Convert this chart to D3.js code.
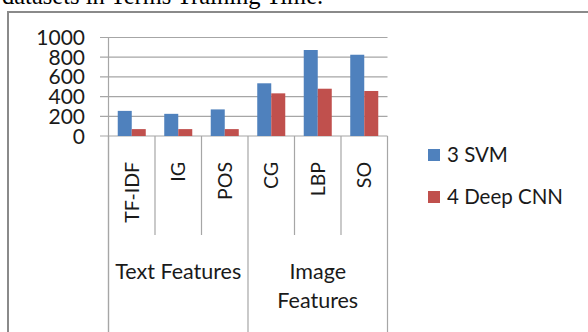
<!DOCTYPE html>
<html>
<head>
<meta charset="utf-8">
<script src="https://cdn.jsdelivr.net/npm/d3@7"></script>
<style>
  html, body { margin: 0; padding: 0; background: #fff; }
  svg { display: block; }
  text { font-family: Lato, "Open Sans", sans-serif; fill: #1a1a1a; }
</style>
</head>
<body>
<svg id="chart" width="588" height="332"></svg>
<script>
// Training time per feature set
const categories = ["TF-IDF", "IG", "POS", "CG", "LBP", "SO"];
const groups = [
  { label: ["Text Features"], members: ["TF-IDF", "IG", "POS"] },
  { label: ["Image", "Features"], members: ["CG", "LBP", "SO"] }
];
const seriesNames = ["3 SVM", "4 Deep CNN"];
const svmValues = [255, 225, 270, 535, 873, 825];
const cnnValues = [70, 70, 70, 433, 480, 457];
const yTicks = [0, 200, 400, 600, 800, 1000];
const colors = ["#4F81BD", "#C0504D"];

const svg = d3.select("#chart");

// caption line above the chart frame
svg.append("text")
  .attr("x", 2).attr("y", 4)
  .style("font-family", "'Liberation Serif', 'Times New Roman', serif")
  .style("font-size", "24.5px")
  .style("fill", "#000")
  .text("datasets in Terms Training Time.");

// chart frame
svg.append("rect")
  .attr("x", 8).attr("y", 12)
  .attr("width", 600).attr("height", 340)
  .attr("fill", "none")
  .attr("stroke", "#8a8a8a")
  .attr("stroke-width", 2);

const x = d3.scaleBand().domain(categories).range([108.5, 387.5]).padding(0);
const xs = d3.scaleBand().domain(seriesNames).range([0, x.bandwidth()]).paddingOuter(0.66).paddingInner(0);
const y = d3.scaleLinear().domain([0, 1000]).range([136, 37.5]);

// horizontal gridlines with short outside ticks
const grid = svg.append("g");
grid.selectAll("line").data(yTicks).join("line")
  .attr("x1", 100).attr("x2", 387.5)
  .attr("y1", d => y(d)).attr("y2", d => y(d))
  .attr("stroke", "#a6a6a6").attr("stroke-width", 1.2);

// y tick labels
svg.append("g").selectAll("text").data(yTicks).join("text")
  .attr("x", 85).attr("y", d => y(d))
  .attr("dy", "0.36em")
  .attr("text-anchor", "end")
  .style("font-size", "21px")
  .text(d => d);

// bars
const rows = categories.map((c, i) => ({ cat: c, vals: [svmValues[i], cnnValues[i]] }));
const barG = svg.append("g");
rows.forEach(r => {
  r.vals.forEach((v, j) => {
    barG.append("rect")
      .attr("x", x(r.cat) + xs(seriesNames[j]))
      .attr("y", y(v))
      .attr("width", xs.bandwidth())
      .attr("height", y(0) - y(v))
      .attr("fill", colors[j]);
  });
});

// y axis line
svg.append("line")
  .attr("x1", x.range()[0]).attr("x2", x.range()[0])
  .attr("y1", y(1000)).attr("y2", 332)
  .attr("stroke", "#a6a6a6").attr("stroke-width", 1.2);

// category dividers: short inside groups, full height at group edges
const groupEdges = new Set();
groups.forEach(g => {
  groupEdges.add(x(g.members[0]));
  groupEdges.add(x(g.members[g.members.length - 1]) + x.bandwidth());
});
const edges = categories.map(c => x(c)).concat([x.range()[1]]);
svg.append("g").selectAll("line").data(edges).join("line")
  .attr("x1", d => d).attr("x2", d => d)
  .attr("y1", y(0))
  .attr("y2", d => groupEdges.has(d) ? 332 : 235)
  .attr("stroke", "#a6a6a6").attr("stroke-width", 1.2);

// rotated category labels
svg.append("g").selectAll("text").data(categories).join("text")
  .attr("transform", d => `translate(${x(d) + x.bandwidth() / 2 + 7},162) rotate(-90)`)
  .attr("text-anchor", "end")
  .style("font-size", "19.5px")
  .text(d => d);

// group labels
groups.forEach(g => {
  const x0 = x(g.members[0]);
  const x1 = x(g.members[g.members.length - 1]) + x.bandwidth();
  const t = svg.append("text")
    .attr("x", (x0 + x1) / 2).attr("y", 279)
    .attr("text-anchor", "middle")
    .style("font-size", "21.5px");
  g.label.forEach((line, i) => {
    t.append("tspan").attr("x", (x0 + x1) / 2).attr("dy", i === 0 ? 0 : 29).text(line);
  });
});

// legend
const leg = svg.append("g");
seriesNames.forEach((s, i) => {
  const ly = 155 + i * 42;
  leg.append("rect").attr("x", 428).attr("y", ly - 6).attr("width", 12).attr("height", 12).attr("fill", colors[i]);
  leg.append("text").attr("x", 447).attr("y", ly).attr("dy", "0.36em")
    .style("font-size", "20.5px").text(s);
});
</script>
</body>
</html>
